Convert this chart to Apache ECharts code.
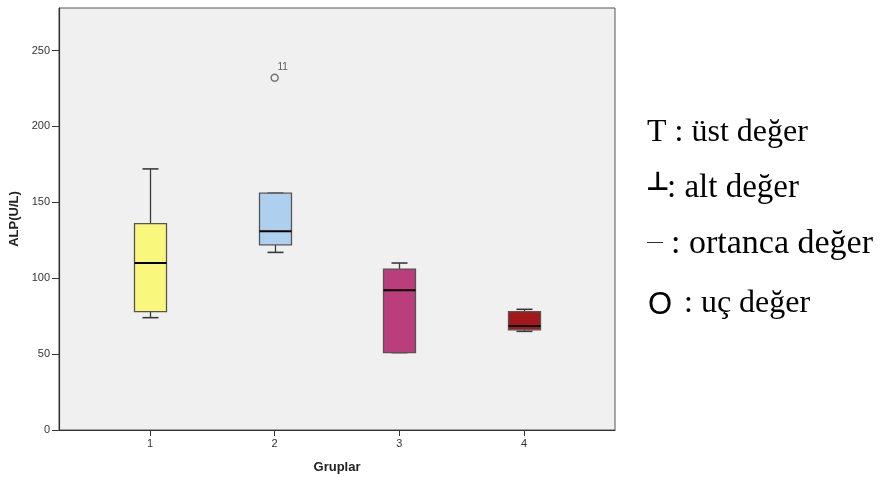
<!DOCTYPE html>
<html>
<head>
<meta charset="utf-8">
<script src="https://cdn.jsdelivr.net/npm/echarts@6/dist/echarts.min.js"></script>
<style>
  html, body { margin: 0; padding: 0; background: #ffffff; }
  #chart { width: 880px; height: 477px; }
</style>
</head>
<body>
<div id="chart"></div>
<script>
// Groups on the horizontal axis
const groups = [1, 2, 3, 4];
// Five-number summaries per group: lower whisker, Q1, median, Q3, upper whisker
const lowerWhisker = [74, 117, 51, 65];
const q1Values = [78, 122, 51, 66];
const medianValues = [110, 131, 92, 68.5];
const q3Values = [136, 156, 106, 78];
const upperWhisker = [172, 156, 110, 79.5];
// Extreme value and its case number
const outlierGroup = [2];
const outlierValue = [232];
const outlierCase = ['11'];
// Box fill colours
const boxColors = ['#F9F77C', '#AED0EE', '#BA3E7C', '#A4181C'];
// Y-axis ticks
const yTicks = [0, 50, 100, 150, 200, 250];

const boxData = groups.map((g, i) => [g, lowerWhisker[i], q1Values[i], medianValues[i], q3Values[i], upperWhisker[i]]);
const outlierData = outlierGroup.map((g, i) => ({ value: [g, outlierValue[i]], name: outlierCase[i] }));

const chart = echarts.init(document.getElementById('chart'), null, { renderer: 'canvas' });

const lineStroke = '#3a3a3a';

function renderBox(params, api) {
  const x = api.value(0);
  const lo = api.coord([x, api.value(1)]);
  const q1 = api.coord([x, api.value(2)]);
  const md = api.coord([x, api.value(3)]);
  const q3 = api.coord([x, api.value(4)]);
  const hi = api.coord([x, api.value(5)]);
  const cx = Math.round(lo[0]) + 0.5;
  const halfBox = 16;
  const halfCap = 8;
  const children = [];
  // whiskers
  children.push({ type: 'line', shape: { x1: cx, y1: q3[1], x2: cx, y2: hi[1] }, style: { stroke: lineStroke, lineWidth: 1.3 } });
  children.push({ type: 'line', shape: { x1: cx, y1: q1[1], x2: cx, y2: lo[1] }, style: { stroke: lineStroke, lineWidth: 1.3 } });
  children.push({ type: 'line', shape: { x1: cx - halfCap, y1: hi[1], x2: cx + halfCap, y2: hi[1] }, style: { stroke: lineStroke, lineWidth: 1.6 } });
  children.push({ type: 'line', shape: { x1: cx - halfCap, y1: lo[1], x2: cx + halfCap, y2: lo[1] }, style: { stroke: lineStroke, lineWidth: 1.6 } });
  // box
  children.push({
    type: 'rect',
    shape: { x: cx - halfBox, y: q3[1], width: halfBox * 2, height: q1[1] - q3[1] },
    style: { fill: boxColors[params.dataIndex], stroke: '#555555', lineWidth: 1.3 }
  });
  // median
  children.push({ type: 'line', shape: { x1: cx - halfBox, y1: md[1], x2: cx + halfBox, y2: md[1] }, style: { stroke: '#000000', lineWidth: 2 } });
  return { type: 'group', children };
}

const serif = '"Liberation Serif", "Times New Roman", serif';
const legendColor = '#000000';

const option = {
  animation: false,
  backgroundColor: '#ffffff',
  textStyle: { fontFamily: '"Liberation Sans", Arial, sans-serif' },
  grid: {
    left: 59, right: 265, top: 8, bottom: 47,
    outerBoundsMode: 'none',
    containLabel: false,
    show: true, backgroundColor: '#F0F0F0', borderColor: '#555555', borderWidth: 1
  },
  xAxis: {
    type: 'value',
    min: 0.27, max: 4.73,
    name: 'Gruplar',
    nameLocation: 'middle',
    nameGap: 31,
    nameTextStyle: { fontSize: 13, fontWeight: 'bold', color: '#222222' },
    splitLine: { show: false },
    axisLine: { show: true, onZero: false, lineStyle: { color: '#333333', width: 1.2 } },
    axisTick: { show: true, length: 6, customValues: groups, lineStyle: { color: '#333333' } },
    axisLabel: { customValues: groups, fontSize: 11, color: '#333333', margin: 8 }
  },
  yAxis: {
    type: 'value',
    min: 0, max: 278, interval: 50,
    name: 'ALP(U/L)',
    nameLocation: 'middle',
    nameGap: 36,
    nameTextStyle: { fontSize: 13, fontWeight: 'bold', color: '#222222' },
    splitLine: { show: false },
    axisLine: { show: true, lineStyle: { color: '#333333', width: 1.2 } },
    axisTick: { show: true, length: 7, customValues: yTicks, lineStyle: { color: '#333333' } },
    axisLabel: { customValues: yTicks, fontSize: 11, color: '#333333', margin: 9 }
  },
  series: [
    {
      type: 'custom',
      renderItem: renderBox,
      data: boxData,
      encode: { x: 0, y: [1, 2, 3, 4, 5] },
      z: 2
    },
    {
      type: 'scatter',
      data: outlierData,
      symbol: 'circle',
      symbolSize: 7,
      itemStyle: { color: 'rgba(0,0,0,0)', borderColor: '#555555', borderWidth: 1.5 },
      label: {
        show: true,
        formatter: p => p.name,
        position: [7, -11],
        fontSize: 10,
        color: '#333333'
      },
      z: 3
    }
  ],
  graphic: [
    { type: 'text', left: 647, top: 117, style: { text: 'T : üst değer', font: '32px ' + serif, fill: legendColor } },
    { type: 'text', left: 646, top: 170, style: { text: '⊥', font: 'bold 26px "DejaVu Sans", sans-serif', fill: legendColor } },
    { type: 'text', left: 667, top: 172, style: { text: ': alt değer', font: '33px ' + serif, fill: legendColor } },
    { type: 'text', left: 647, top: 234, style: { text: '—', font: '16px ' + serif, fill: legendColor } },
    { type: 'text', left: 671, top: 227, style: { text: ': ortanca değer', font: '34px ' + serif, fill: legendColor } },
    { type: 'text', left: 648, top: 290, style: { text: 'O', font: '31px "Liberation Sans", Arial, sans-serif', fill: legendColor } },
    { type: 'text', left: 684, top: 288, style: { text: ': uç değer', font: '32px ' + serif, fill: legendColor } }
  ]
};

chart.setOption(option);
</script>
</body>
</html>
